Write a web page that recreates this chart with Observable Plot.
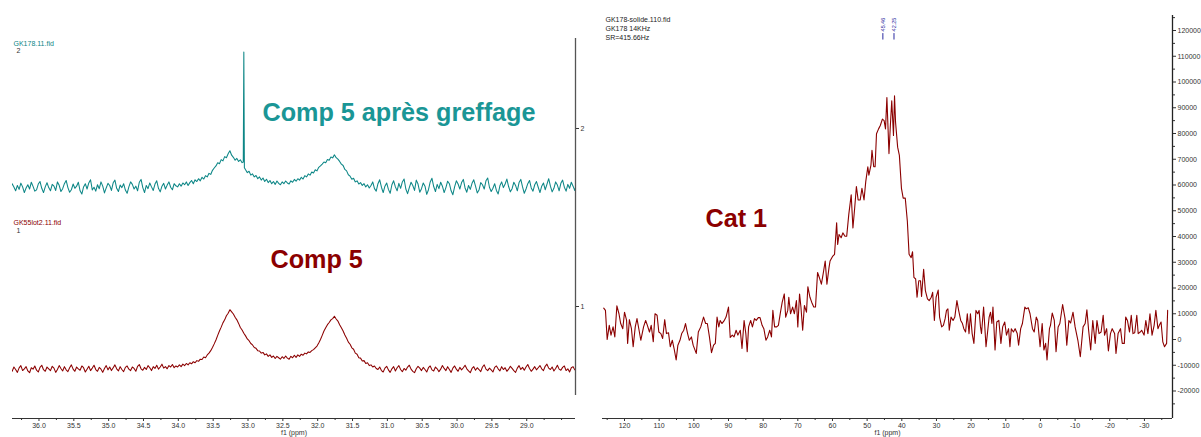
<!DOCTYPE html>
<html><head><meta charset="utf-8">
<script src="https://cdn.jsdelivr.net/npm/d3@7"></script>
<script src="https://cdn.jsdelivr.net/npm/@observablehq/plot@0.6"></script>
<style>
html,body{margin:0;padding:0;background:#fff;}
#wrap{position:relative;width:1201px;height:437px;overflow:hidden;background:#fff;}
#left{position:absolute;left:0;top:0;width:590px;height:437px;}
#right{position:absolute;left:590px;top:0;width:611px;height:437px;}
</style></head><body>
<div id="wrap"><div id="left"></div><div id="right"></div></div>
<script>
// ---------- LEFT PANEL DATA (f1 ppm grid, regular spacing) ----------
const leftFirstPpm = 36.41;
const leftStepPpm = 0.025;
// GK178.11.fid (Comp 5 après greffage), intensity in stacked-plot units
const tealValues = [
1.662,1.690,1.671,1.650,1.680,1.658,1.693,1.672,1.640,1.666,
1.684,1.660,1.698,1.675,1.648,1.655,1.688,1.702,1.664,1.640,
1.672,1.695,1.668,1.650,1.686,1.676,1.652,1.700,1.681,1.646,
1.662,1.690,1.708,1.668,1.642,1.656,1.688,1.664,1.676,1.698,
1.650,1.632,1.672,1.690,1.660,1.694,1.712,1.655,1.670,1.648,
1.684,1.662,1.700,1.676,1.638,1.666,1.692,1.680,1.652,1.695,
1.710,1.664,1.646,1.682,1.668,1.690,1.654,1.636,1.672,1.700,
1.686,1.660,1.676,1.650,1.698,1.714,1.668,1.640,1.680,1.662,
1.694,1.672,1.652,1.688,1.706,1.664,1.644,1.676,1.692,1.660,
1.682,1.700,1.670,1.656,1.690,1.678,
1.672,1.690,1.676,1.694,1.684,1.700,1.680,1.696,1.708,1.690,
1.712,1.702,1.718,1.706,1.726,1.716,1.735,1.728,1.748,1.742,
1.765,1.778,1.790,1.808,1.802,1.825,1.818,1.842,1.836,1.858,
1.875,
1.850,1.838,1.822,1.832,1.815,1.824,1.808,
2.43,
1.768,1.752,1.760,1.738,1.745,1.728,1.736,1.718,1.728,1.710,
1.722,1.702,1.715,1.696,1.708,1.690,1.702,1.686,1.705,1.692,
1.684,1.700,1.690,1.705,1.694,1.688,1.706,1.698,1.714,1.704,
1.718,1.710,1.726,1.716,1.735,1.728,1.745,1.738,1.756,1.750,
1.768,1.762,1.782,1.790,1.800,1.812,1.808,1.826,1.822,1.840,
1.835,1.852,1.836,1.828,1.815,1.800,1.792,1.770,1.762,1.740,
1.732,1.715,1.720,1.700,1.706,1.688,1.696,1.680,1.690,1.672,
1.684,1.666,
1.680,1.700,1.662,1.648,1.690,1.712,1.670,1.640,1.676,1.694,
1.658,1.636,1.684,1.706,1.672,1.650,1.692,1.664,1.700,1.716,
1.660,1.634,1.668,1.698,1.680,1.652,1.710,1.688,1.642,1.662,
1.694,1.676,1.630,1.656,1.700,1.720,1.674,1.646,1.686,1.662,
1.698,1.676,1.640,1.668,1.704,1.690,1.650,1.628,1.672,1.706,
1.688,1.660,1.696,1.714,1.666,1.642,1.680,1.658,1.692,1.712,
1.676,1.638,1.654,1.696,1.684,1.660,1.706,1.722,1.670,1.646,
1.664,1.690,1.652,1.632,1.678,1.700,1.668,1.688,1.716,1.674,
1.644,1.662,1.698,1.680,1.650,1.696,1.714,1.672,1.636,1.660,
1.690,1.708,1.666,1.648,1.684,1.702,1.670,1.640,1.676,1.694,
1.656,1.686,1.718,1.676,1.644,1.664,1.700,1.682,1.650,1.692,
1.710,1.670,1.648,1.686,1.664,1.698,1.676,1.652,1.688,1.670,
1.680
];
// extra samples around the sharp line at 33.06 ppm
const tealSpikePpm = [33.068, 33.052];
const tealSpikeValues = [1.812, 1.78];
// GK55lot2.11.fid (Comp 5)
const redValues = [
0.652,0.636,0.660,0.646,0.630,0.655,0.668,0.640,0.650,0.662,
0.638,0.628,0.656,0.648,0.666,0.642,0.632,0.658,0.670,0.645,
0.636,0.660,0.650,0.640,0.664,0.654,0.630,0.646,0.668,0.652,
0.638,0.662,0.644,0.634,0.656,0.672,0.648,0.636,0.660,0.650,
0.642,0.666,0.656,0.632,0.648,0.664,0.640,0.654,0.670,0.646,
0.636,0.658,0.648,0.630,0.652,0.668,0.644,0.660,0.640,0.656,
0.672,0.650,0.638,0.662,0.646,0.634,0.658,0.666,0.648,0.640,
0.660,0.652,0.636,0.664,0.674,0.650,0.642,0.658,0.646,0.668,
0.656,0.640,0.662,0.652,0.670,0.648,0.660,0.676,0.654,0.662,
0.650,0.668,0.660,0.674,0.656,0.666,
0.660,0.672,0.662,0.676,0.668,0.680,0.672,0.684,0.678,0.690,
0.684,0.696,0.692,0.704,0.702,0.716,0.712,0.728,0.738,0.752,
0.770,0.790,0.812,0.838,0.862,0.884,0.908,0.925,0.948,0.962,
0.982,
0.970,0.958,0.940,0.925,0.905,0.882,0.868,0.850,0.835,0.818,
0.808,0.792,0.784,0.770,0.765,0.752,0.750,0.738,0.742,0.728,
0.734,0.720,0.728,0.714,0.722,0.708,0.720,0.712,0.704,0.718,
0.708,0.722,0.710,0.704,0.720,0.712,0.726,0.714,0.728,0.720,
0.732,0.726,0.738,0.734,0.745,0.742,0.752,0.758,0.768,0.778,
0.795,0.815,0.838,0.862,0.880,0.898,0.910,0.925,0.932,0.945,
0.930,0.918,0.898,0.880,0.862,0.840,0.822,0.800,0.788,0.768,
0.760,0.738,0.732,0.712,0.710,0.694,0.696,0.680,0.684,0.668,
0.672,0.660,0.666,0.652,
0.646,0.660,0.640,0.632,0.654,0.664,0.644,0.630,0.650,0.662,
0.638,0.656,0.668,0.646,0.634,0.652,0.642,0.660,0.670,0.648,
0.636,0.628,0.650,0.664,0.654,0.640,0.658,0.646,0.632,0.656,
0.666,0.644,0.638,0.660,0.650,0.634,0.648,0.668,0.652,0.640,
0.662,0.646,0.630,0.654,0.666,0.648,0.636,0.658,0.644,0.656,
0.670,0.650,0.638,0.628,0.652,0.662,0.642,0.656,0.646,0.634,
0.660,0.672,0.648,0.640,0.654,0.644,0.632,0.658,0.666,0.650,
0.638,0.662,0.646,0.656,0.636,0.648,0.664,0.652,0.640,0.630,
0.654,0.668,0.646,0.658,0.642,0.660,0.674,0.652,0.636,0.648,
0.662,0.644,0.656,0.668,0.650,0.640,0.664,0.676,0.654,0.646,
0.660,0.638,0.652,0.670,0.648,0.642,0.658,0.666,0.640,0.650,
0.632,0.656,0.662,0.644,0.652,0.628,0.648
];
const leftMajorTicks = [36.0,35.5,35.0,34.5,34.0,33.5,33.0,32.5,32.0,31.5,31.0,30.5,30.0,29.5,29.0];
const leftMinorTicks = [36.25,35.75,35.25,34.75,34.25,33.75,33.25,32.75,32.25,31.75,31.25,30.75,30.25,29.75,29.25,28.75,28.5];
const leftYTicks = [1, 2];

// ---------- RIGHT PANEL DATA (GK178-solide.110.fid, Cat 1) ----------
const cat1Ppm = [
126.0,125.5,125.0,124.4,123.9,123.3,122.8,122.2,121.6,121.1,120.5,120.0,119.4,119.1,118.6,118.0,117.5,116.9,116.4,115.8,
115.3,114.5,113.9,113.4,112.8,112.3,111.7,111.2,110.6,110.1,109.5,109.0,108.4,107.9,107.3,106.8,106.2,105.7,105.1,104.6,
104.0,103.5,102.9,102.4,101.8,101.3,100.7,100.2,99.3,98.7,98.0,97.2,96.6,96.1,95.5,94.9,94.3,93.8,93.3,92.8,
92.4,91.9,91.3,90.7,90.0,89.5,88.9,88.4,87.8,87.3,86.6,86.1,85.5,85.0,84.6,84.2,83.6,83.1,82.5,82.0,
81.4,80.9,80.3,79.8,79.2,78.7,78.1,77.6,77.2,76.7,76.1,75.6,75.0,74.5,73.9,73.5,72.9,72.6,72.1,71.5,
71.0,70.4,70.0,69.5,69.1,68.6,68.1,67.5,67.1,66.5,66.0,65.4,64.9,64.3,63.8,63.2,62.7,62.1,61.6,61.0,
60.7,59.9,59.4,58.8,58.5,58.1,57.5,57.0,56.4,55.9,55.3,54.6,54.1,53.6,53.1,52.6,52.0,51.5,50.9,50.4,
49.8,49.5,48.9,48.6,48.1,47.7,47.3,46.7,46.2,45.6,45.1,44.7,44.3,43.7,43.3,42.9,42.4,42.1,41.8,41.2,
40.7,40.1,39.6,39.0,38.4,37.9,37.3,36.9,36.5,36.0,35.6,35.1,34.6,34.3,33.7,33.2,32.6,32.1,31.5,31.1,
30.6,30.1,29.5,29.1,28.5,28.0,27.5,27.1,26.7,26.3,25.8,25.2,24.7,24.1,23.6,23.0,22.5,22.1,21.6,21.1,
20.6,20.2,19.7,19.2,18.6,18.1,17.7,17.3,17.0,16.4,15.7,15.3,14.8,14.4,14.0,13.7,13.1,12.6,12.0,11.4,
10.9,10.3,9.8,9.2,8.8,8.4,7.8,7.3,6.7,6.3,5.7,5.2,4.5,4.1,3.5,3.0,2.3,1.8,1.2,0.8,
0.1,-0.5,-1.0,-1.5,-1.9,-2.6,-2.9,-3.4,-4.0,-4.5,-5.1,-5.6,-6.4,-7.1,-7.6,-8.2,-8.7,-9.4,-10.0,-10.8,
-11.5,-12.3,-12.9,-13.4,-13.9,-14.5,-15.1,-15.8,-16.3,-16.9,-17.5,-18.1,-18.5,-19.1,-19.6,-20.2,-20.7,-21.4,-21.8,-22.4,
-23.1,-23.6,-24.2,-24.6,-25.1,-25.7,-26.2,-26.7,-27.2,-27.8,-28.2,-28.8,-29.2,-29.9,-30.4,-31.0,-31.6,-32.2,-32.8,-33.3,
-33.9,-34.3,-34.8,-35.3,-35.8,-36.4,-36.7
];
// intensities in thousands
const cat1ValuesK = [
12.2,11.3,0,5.5,1.7,4.9,1.0,13.1,10.0,6.2,4.2,10.6,7.4,-1.5,7.7,4.2,-2.8,4.9,8.1,3.6,
-0.3,4.9,7.4,5.5,2.9,5.5,-0.9,10.0,9.4,2.9,2.3,0.4,7.7,2.3,2.6,-2.8,-0.3,-3.5,-7.9,-2.2,
-0.3,2.3,3.6,6.2,2.3,-0.3,1.0,-2.2,-5.4,2.9,4.9,8.7,6.2,6.2,1.0,-5.1,-2.2,-1.5,8.7,4.9,
7.4,6.2,7.2,8.7,12.6,0.8,1.7,1.0,3.6,1.7,3.6,-3.5,7.4,2.3,-4.7,4.9,7.4,4.9,8.1,7.4,
8.5,8.5,5.5,4.2,-0.3,1.0,3.6,1.0,11.3,4.9,4.9,5.5,10.6,14.5,17.7,8.7,11.3,16.4,10.0,12.6,
10.0,15.1,4.9,17.7,12.6,3.6,13.2,10.6,20.5,16.4,14.5,12.6,12.6,26.0,24.1,21.5,25.4,30.5,21.5,27.9,
30.5,32.4,33.1,45.3,36.9,40.8,39.5,41.4,40.1,40.1,48.5,56.2,43.3,51.0,59.4,54.2,54.2,58.7,54.2,61.3,
67.1,63.8,67.7,73.5,67.1,67.1,79.9,81.8,83.1,85.6,85.0,81.8,94.0,72.2,83.1,92.7,79.2,94.6,84.4,74.7,
71.5,58.7,54.9,54.9,45.9,33.1,31.8,34.1,24.1,23.5,16.4,22.8,22.8,16.7,27.3,19.0,15.8,15.1,16.4,18.3,
7.4,16.4,19.2,8.7,4.9,5.5,8.1,11.3,11.9,3.6,8.7,7.4,8.7,15.1,11.3,7.4,6.2,4.2,2.9,10.0,
2.3,10.0,2.3,-1.5,11.3,10.0,11.3,4.9,2.3,12.6,-2.8,2.3,8.7,10.6,6.2,12.6,-4.1,6.8,7.4,-1.5,
4.9,6.8,1.7,4.2,-2.8,4.2,2.9,4.2,2.3,-2.2,4.2,6.2,12.6,11.9,12.3,10.0,4.2,2.9,8.7,7.4,
-2.8,6.2,-4.1,-1.5,-7.9,4.2,5.5,10.3,7.4,-4.7,4.9,6.2,13.6,8.1,-2.2,7.4,6.4,10.6,4.9,-0.3,
-6.7,4.9,6.2,11.5,3.6,-4.1,7.4,-1.5,7.4,2.3,2.9,9.4,1.7,4.2,-4.4,2.3,4.2,2.3,-5.4,2.3,
4.2,-1.5,-1.5,8.7,7.4,2.9,9.4,2.3,2.6,9.4,2.3,2.9,3.6,1.7,7.4,2.3,10.0,1.7,5.5,11.3,
4.2,5.5,6.8,-0.9,-2.8,-1.5,11.3
];
const cat1Peaks = ["45.46", "42.25"];
const rightXMajorTicks = [120,110,100,90,80,70,60,50,40,30,20,10,0,-10,-20,-30];
const rightXMinorTicks = [125,115,105,95,85,75,65,55,45,35,25,15,5,-5,-15,-25,-35];
const rightYMajorTicks = [-20000,-10000,0,10000,20000,30000,40000,50000,60000,70000,80000,90000,100000,110000,120000];
const rightYMinorTicks = [-25000,-15000,-5000,5000,15000,25000,35000,45000,55000,65000,75000,85000,95000,105000,115000,125000];

// ---------- BUILD ----------
const FONT = "Liberation Sans, Arial, sans-serif";
const TEAL = "#0c8686";
const DARKRED = "#8b0000";
const BIG = 25.2;

const leftPpm = tealValues.map((_, i) => +(leftFirstPpm - i * leftStepPpm).toFixed(3));
const tealData = leftPpm.map((x, i) => ({x, y: tealValues[i]}))
  .concat(tealSpikePpm.map((x, i) => ({x, y: tealSpikeValues[i]})))
  .sort((a, b) => b.x - a.x);
const redData = leftPpm.map((x, i) => ({x, y: redValues[i]}));

const LX = [36.38, 28.30];
const LY = [0.3708, 2.5056];

const leftPlot = Plot.plot({
  width: 590, height: 437,
  marginLeft: 12, marginRight: 15, marginTop: 38, marginBottom: 19,
  style: {fontFamily: FONT, fontSize: "7px", color: "#333", background: "white", overflow: "visible"},
  x: {domain: LX},
  y: {domain: LY},
  marks: [
    Plot.line(tealData, {x: "x", y: "y", stroke: TEAL, strokeWidth: 1.05, clip: true}),
    Plot.line(redData, {x: "x", y: "y", stroke: DARKRED, strokeWidth: 1.05, clip: true}),
    Plot.ruleY([LY[0]], {stroke: "#333", strokeWidth: 1}),
    Plot.ruleX([LX[1]], {y1: 0.5, y2: LY[1], stroke: "#555", strokeWidth: 1.3}),
    Plot.axisX({ticks: leftMajorTicks, tickSize: 3, tickPadding: 2, tickFormat: d => d.toFixed(1), label: null}),
    Plot.axisX({ticks: leftMinorTicks, tickSize: 2, tickFormat: () => "", label: null}),
    Plot.axisY({anchor: "right", ticks: leftYTicks, tickSize: 3, tickPadding: 2, tickFormat: d => String(d), label: null}),
    Plot.text(["f1 (ppm)"], {text: d => d, frameAnchor: "bottom", dy: 16, lineAnchor: "bottom", fontSize: 7, fill: "#333"}),
    Plot.text(["GK178.11.fid"], {text: d => d, frameAnchor: "top-left", dx: 1, dy: 7, textAnchor: "start", lineAnchor: "bottom", fontSize: 7, fill: TEAL}),
    Plot.text(["2"], {text: d => d, frameAnchor: "top-left", dx: 4, dy: 14.5, textAnchor: "start", lineAnchor: "bottom", fontSize: 7, fill: "#333"}),
    Plot.text(["GK55lot2.11.fid"], {text: d => d, frameAnchor: "top-left", dx: 1, dy: 186, textAnchor: "start", lineAnchor: "bottom", fontSize: 7, fill: DARKRED}),
    Plot.text(["1"], {text: d => d, frameAnchor: "top-left", dx: 4, dy: 194, textAnchor: "start", lineAnchor: "bottom", fontSize: 7, fill: "#333"}),
    Plot.text(["Comp 5 après greffage"], {text: d => d, frameAnchor: "top-left", dx: 250, dy: 82, textAnchor: "start", lineAnchor: "bottom", fontSize: BIG, fontWeight: "bold", fill: "#1a9696", fontFamily: FONT}),
    Plot.text(["Comp 5"], {text: d => d, frameAnchor: "top-left", dx: 258, dy: 229, textAnchor: "start", lineAnchor: "bottom", fontSize: BIG, fontWeight: "bold", fill: DARKRED, fontFamily: FONT})
  ]
});
document.getElementById("left").appendChild(leftPlot);

const cat1Data = cat1Ppm.map((x, i) => ({x, y: cat1ValuesK[i] * 1000}));
const RX = [126.35, -38.1];
const RY = [-30680, 125830];
const peakData = cat1Peaks.map(s => ({x: +s, label: s}));

const rightPlot = Plot.plot({
  width: 611, height: 437,
  marginLeft: 12, marginRight: 29, marginTop: 15, marginBottom: 19,
  style: {fontFamily: FONT, fontSize: "7px", color: "#333", background: "white", overflow: "visible"},
  x: {domain: RX},
  y: {domain: RY},
  marks: [
    Plot.line(cat1Data, {x: "x", y: "y", stroke: DARKRED, strokeWidth: 1.1}),
    Plot.ruleY([RY[0]], {stroke: "#333", strokeWidth: 1}),
    Plot.ruleX([RX[1]], {y1: RY[0], y2: RY[1], stroke: "#222", strokeWidth: 1.3}),
    Plot.axisX({ticks: rightXMajorTicks, tickSize: 3, tickPadding: 2, tickFormat: d => String(d), label: null}),
    Plot.axisX({ticks: rightXMinorTicks, tickSize: 2, tickFormat: () => "", label: null}),
    Plot.axisY({anchor: "right", ticks: rightYMajorTicks, tickSize: 3, tickPadding: 2, tickFormat: d => String(d), label: null}),
    Plot.axisY({anchor: "right", ticks: rightYMinorTicks, tickSize: 2, tickFormat: () => "", label: null}),
    Plot.text(["f1 (ppm)"], {text: d => d, frameAnchor: "bottom", dy: 16, lineAnchor: "bottom", fontSize: 7, fill: "#333"}),
    Plot.text(["GK178-solide.110.fid"], {text: d => d, frameAnchor: "top-left", dx: 3, dy: 6.5, textAnchor: "start", lineAnchor: "bottom", fontSize: 7, fill: "#222"}),
    Plot.text(["GK178 14KHz"], {text: d => d, frameAnchor: "top-left", dx: 3, dy: 15.5, textAnchor: "start", lineAnchor: "bottom", fontSize: 7, fill: "#222"}),
    Plot.text(["SR=415.66Hz"], {text: d => d, frameAnchor: "top-left", dx: 3, dy: 24.5, textAnchor: "start", lineAnchor: "bottom", fontSize: 7, fill: "#222"}),
    Plot.text(peakData, {x: "x", text: "label", frameAnchor: "top", dy: 9, rotate: -90, textAnchor: "middle", lineAnchor: "middle", fontSize: 5.5, fill: "#2b2ba0"}),
    Plot.ruleX(peakData, {x: "x", y1: 116300, y2: 118800, stroke: "#2b2ba0", strokeWidth: 1}),
    Plot.text(["Cat 1"], {text: d => d, frameAnchor: "top-left", dx: 103, dy: 211, textAnchor: "start", lineAnchor: "bottom", fontSize: BIG, fontWeight: "bold", fill: DARKRED, fontFamily: FONT})
  ]
});
document.getElementById("right").appendChild(rightPlot);
</script>
</body></html>
